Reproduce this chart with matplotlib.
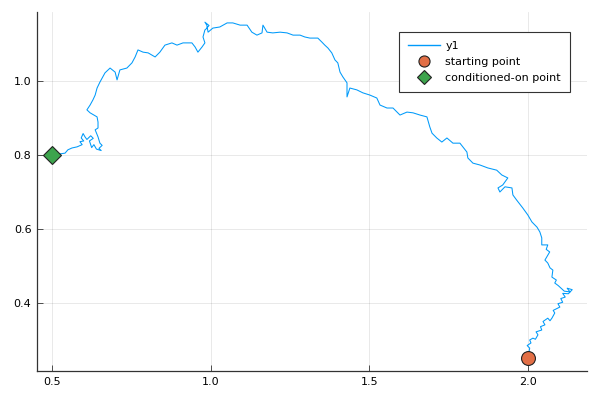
import matplotlib
matplotlib.use('Agg')
import matplotlib.pyplot as plt

# path, from the starting point to the conditioned-on point
path_x = [2.000, 2.006, 1.998, 2.010, 2.006, 2.016, 2.024, 2.032, 2.026, 2.044,
          2.040, 2.054, 2.048, 2.063, 2.070, 2.076, 2.085, 2.080, 2.101, 2.095,
          2.110, 2.104, 2.118, 2.110, 2.128, 2.140, 2.124, 2.133, 2.115, 2.105,
          2.096, 2.085, 2.090, 2.076, 2.079, 2.070, 2.063, 2.054, 2.069, 2.058,
          2.063, 2.044, 2.044, 2.038, 2.029, 2.013, 2.000, 1.984, 1.965, 1.953,
          1.950, 1.928, 1.912, 1.906, 1.921, 1.937, 1.918, 1.902, 1.874, 1.849,
          1.827, 1.811, 1.808, 1.786, 1.764, 1.745, 1.729, 1.713, 1.698, 1.691,
          1.682, 1.660, 1.638, 1.619, 1.597, 1.575, 1.556, 1.534, 1.524, 1.502,
          1.480, 1.461, 1.439, 1.430, 1.430, 1.417, 1.408, 1.401, 1.392, 1.382,
          1.370, 1.360, 1.351, 1.338, 1.313, 1.297, 1.282, 1.260, 1.241, 1.219,
          1.196, 1.178, 1.165, 1.162, 1.146, 1.130, 1.115, 1.093, 1.070, 1.052,
          1.029, 1.007, 0.992, 0.988, 0.982, 0.995, 0.985, 0.982, 0.976, 0.982,
          0.973, 0.960, 0.951, 0.941, 0.913, 0.894, 0.878, 0.856, 0.840, 0.825,
          0.803, 0.787, 0.771, 0.762, 0.752, 0.736, 0.714, 0.705, 0.699, 0.683,
          0.667, 0.651, 0.642, 0.636, 0.629, 0.620, 0.610, 0.620, 0.642, 0.645,
          0.645, 0.636, 0.645, 0.651, 0.658, 0.648, 0.655, 0.640, 0.632, 0.625,
          0.618, 0.630, 0.622, 0.610, 0.604, 0.598, 0.592, 0.600, 0.588, 0.595,
          0.584, 0.579, 0.563, 0.550, 0.541, 0.525, 0.500]
path_y = [0.250, 0.278, 0.285, 0.292, 0.300, 0.305, 0.302, 0.314, 0.322, 0.327,
          0.336, 0.341, 0.350, 0.359, 0.352, 0.359, 0.373, 0.380, 0.389, 0.398,
          0.402, 0.412, 0.416, 0.426, 0.425, 0.436, 0.440, 0.430, 0.432, 0.440,
          0.447, 0.454, 0.462, 0.470, 0.489, 0.495, 0.508, 0.516, 0.538, 0.545,
          0.557, 0.557, 0.576, 0.592, 0.605, 0.619, 0.638, 0.657, 0.678, 0.692,
          0.711, 0.714, 0.700, 0.711, 0.719, 0.738, 0.746, 0.759, 0.765, 0.773,
          0.778, 0.792, 0.808, 0.832, 0.832, 0.846, 0.835, 0.846, 0.859, 0.876,
          0.903, 0.908, 0.914, 0.916, 0.908, 0.927, 0.927, 0.935, 0.954, 0.962,
          0.968, 0.976, 0.981, 0.957, 0.995, 1.011, 1.024, 1.049, 1.057, 1.076,
          1.089, 1.097, 1.105, 1.116, 1.116, 1.119, 1.124, 1.124, 1.130, 1.132,
          1.130, 1.132, 1.151, 1.130, 1.124, 1.132, 1.151, 1.151, 1.157, 1.157,
          1.146, 1.143, 1.132, 1.151, 1.159, 1.150, 1.140, 1.138, 1.119, 1.103,
          1.092, 1.078, 1.092, 1.103, 1.103, 1.097, 1.103, 1.097, 1.078, 1.065,
          1.076, 1.078, 1.084, 1.065, 1.049, 1.035, 1.030, 1.003, 1.024, 1.035,
          1.022, 0.997, 0.981, 0.962, 0.949, 0.935, 0.922, 0.914, 0.903, 0.889,
          0.873, 0.868, 0.849, 0.832, 0.826, 0.818, 0.812, 0.816, 0.828, 0.820,
          0.838, 0.845, 0.852, 0.842, 0.849, 0.858, 0.846, 0.838, 0.836, 0.828,
          0.824, 0.822, 0.819, 0.814, 0.805, 0.803, 0.800]

start_pt = (2.0, 0.25)
cond_pt = (0.5, 0.8)

x_ticks = [0.5, 1.0, 1.5, 2.0]
y_ticks = [0.4, 0.6, 0.8, 1.0]

fig = plt.figure(figsize=(6, 4), dpi=100)
ax = fig.add_axes([0.0617, 0.0725, 0.9163, 0.8975])

ax.plot(path_x, path_y, color='#009AFA', lw=0.75, label='y1', zorder=2)
ax.plot([start_pt[0]], [start_pt[1]], 'o', ms=10, mfc='#E26F46', mec='#222222',
        mew=0.8, ls='none', label='starting point', zorder=3)
ax.plot([cond_pt[0]], [cond_pt[1]], 'D', ms=9, mfc='#3DA44D', mec='#222222',
        mew=0.8, ls='none', label='conditioned-on point', zorder=3)

ax.set_xlim(0.4527, 2.186)
ax.set_ylim(0.2162, 1.1865)
ax.set_xticks(x_ticks)
ax.set_yticks(y_ticks)
ax.set_xticklabels([f'{v:.1f}' for v in x_ticks])
ax.set_yticklabels([f'{v:.1f}' for v in y_ticks])
ax.grid(True, color='#000000', alpha=0.1, lw=0.6)
ax.set_axisbelow(True)
for s in ['top', 'right']:
    ax.spines[s].set_visible(False)
for s in ['left', 'bottom']:
    ax.spines[s].set_color('#333333')
    ax.spines[s].set_linewidth(0.9)
ax.tick_params(direction='in', length=4, width=0.6, colors='#333333',
               labelsize=8, labelcolor='black', pad=4)

leg = ax.legend(loc='upper right', bbox_to_anchor=(0.969, 0.944), borderaxespad=0,
                fontsize=8, frameon=True, fancybox=False, framealpha=1,
                edgecolor='#333333', handlelength=2.9, handletextpad=0.45,
                borderpad=0.8, labelspacing=0.55, markerscale=0.8)
leg.get_frame().set_linewidth(0.8)
leg.get_lines()[0].set_linewidth(1.0)

fig.savefig('out.png', dpi=100)
